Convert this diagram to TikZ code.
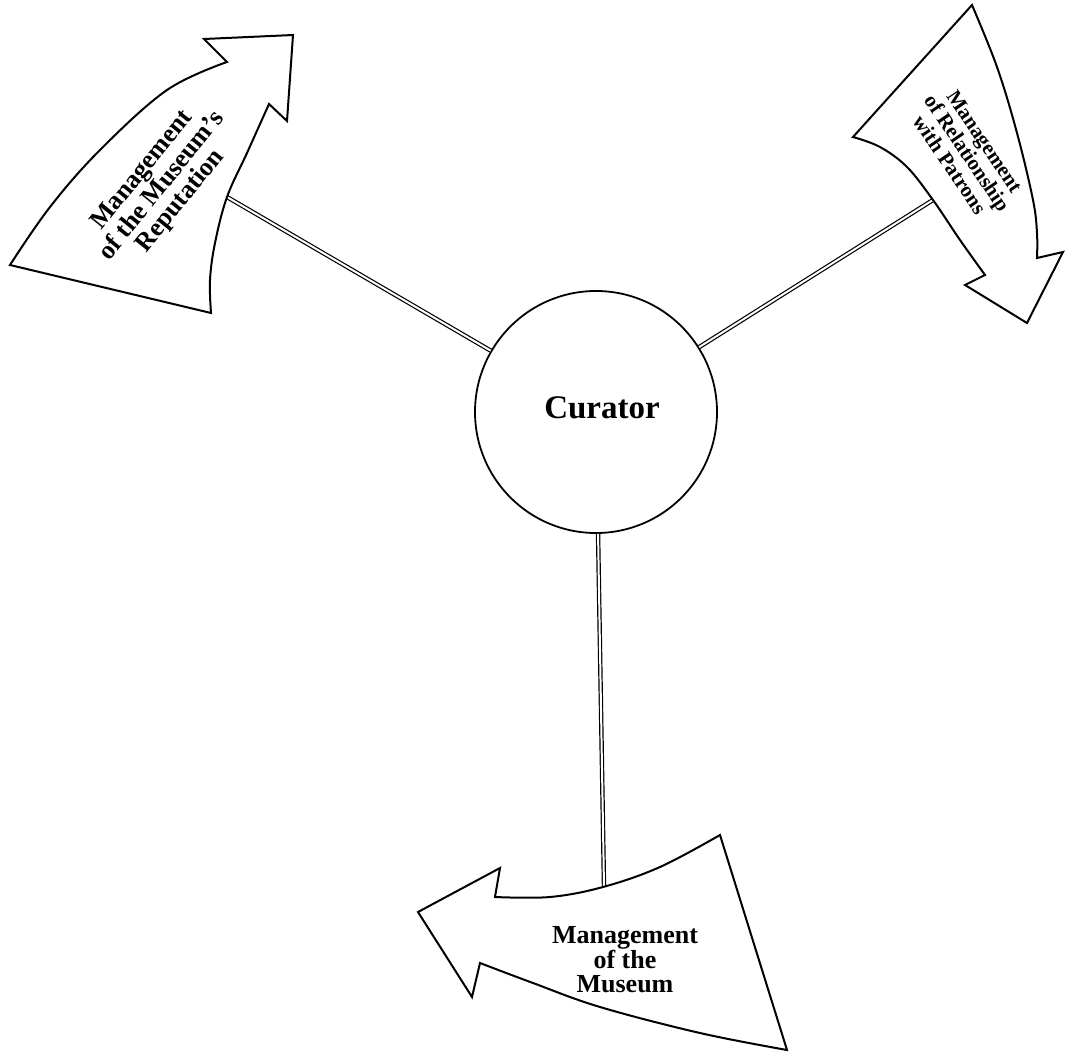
\documentclass[tikz,border=0pt]{standalone}
\usepackage{fontspec}
\setmainfont{Liberation Serif}
\begin{document}
\begin{tikzpicture}[x=1pt,y=-1pt,
  outline/.style={draw=black, fill=white, line width=2pt, line join=miter},
  link/.style={draw=black, double=white, line width=1.2pt, double distance=2pt},
  hub/.style={circle, draw=black, line width=1.8pt, minimum size=242pt, inner sep=0pt},
  label/.style={align=center, font=\bfseries\fontsize{26}{24}\selectfont},
  smalllabel/.style={align=center, font=\bfseries\fontsize{21}{21}\selectfont}]
\fill[white] (0,0) rectangle (1069,1054);
\useasboundingbox (0,0) rectangle (1069,1054);

% central node
\node[hub] (cur) at (596,412) {};
\node[font=\bfseries\fontsize{33}{36}\selectfont] (curtext) at (602,408) {Curator};

% points where the spokes meet the arrows
\coordinate (repAnchor) at (227,197);
\coordinate (patAnchor) at (933,200);
\coordinate (musAnchor) at (604,887);

% spokes
\draw[link] (cur) -- (repAnchor);
\draw[link] (cur) -- (patAnchor);
\draw[link] (cur) -- (musAnchor);

% upper-left arrow
\path[outline] (10,265) -- (211,313)
  -- plot[smooth, tension=0.6] coordinates {(211,313) (210,280) (215,243) (227,197) (247,153) (269,104)}
  -- (287,121) -- (293,35) -- (204,39) -- (227,62)
  -- plot[smooth, tension=0.6] coordinates {(227,62) (167,90) (100,150) (50,207) (10,265)}
  -- cycle;
\node[label, rotate=51] (rep) at (162,186) {Management\\of the Museum's\\Reputation};

% upper-right arrow
\path[outline] (972,5) -- (853,137)
  -- plot[smooth, tension=0.6] coordinates {(853,137) (880,147) (907,167) (933,200) (960,240) (985,275)}
  -- (965,285) -- (1027,323) -- (1063,252) -- (1037,258)
  -- plot[smooth, tension=0.6] coordinates {(1037,258) (1037,233) (1033,200) (1017,133) (997,67) (972,5)}
  -- cycle;
\node[smalllabel, rotate=-56] (pat) at (967,153) {Management\\of Relationship\\with Patrons};

% bottom arrow
\path[outline] (720,835) -- (787,1050)
  -- plot[smooth, tension=0.6] coordinates {(787,1050) (700,1033) (600,1007) (533,983) (480,963)}
  -- (472,997) -- (418,912) -- (500,868) -- (495,897)
  -- plot[smooth, tension=0.6] coordinates {(495,897) (550,897) (603,887) (660,867) (720,835)}
  -- cycle;
\node[label] (mus) at (625,960) {Management\\of the\\Museum};
\end{tikzpicture}
\end{document}
